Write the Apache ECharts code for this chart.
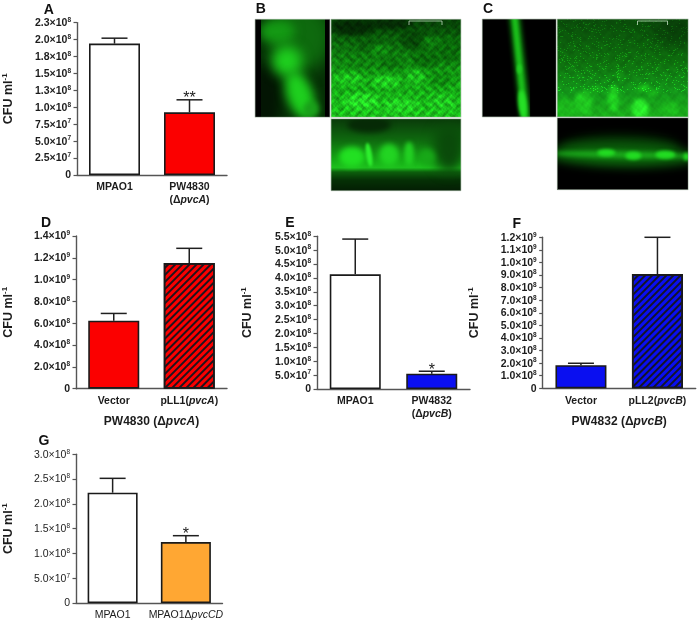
<!DOCTYPE html>
<html><head><meta charset="utf-8">
<style>html,body{margin:0;padding:0;background:#fff}#c{width:699px;height:626px}</style>
<script src="https://cdn.jsdelivr.net/npm/echarts@6/dist/echarts.min.js"></script>
</head><body><div id="c"></div>
<script>
// ---------- data ----------
const catsA = ['MPAO1', 'PW4830\n(Δ_pvcA_)'];
const valsA = [1.94e8, 9.25e7];
const errA  = [2.02e8, 1.11e8];
const sigA  = ['', '**'];
const ticksA = ['0','2.5×10^7','5.0×10^7','7.5×10^7','1.0×10^8','1.3×10^8','1.5×10^8','1.8×10^8','2.0×10^8','2.3×10^8'];

const catsD = ['Vector', 'pLL1(_pvcA_)'];
const valsD = [6.23e8, 1.152e9];
const errD  = [6.9e8, 1.287e9];
const sigD  = ['', ''];
const ticksD = ['0','2.0×10^8','4.0×10^8','6.0×10^8','8.0×10^8','1.0×10^9','1.2×10^9','1.4×10^9'];

const catsE = ['MPAO1', 'PW4832\n(Δ_pvcB_)'];
const valsE = [4.13e8, 5.5e7];
const errE  = [5.4e8, 6.4e7];
const sigE  = ['', '*'];
const ticksE = ['0','5.0×10^7','1.0×10^8','1.5×10^8','2.0×10^8','2.5×10^8','3.0×10^8','3.5×10^8','4.0×10^8','4.5×10^8','5.0×10^8','5.5×10^8'];

const catsF = ['Vector', 'pLL2(_pvcB_)'];
const valsF = [1.83e8, 9.08e8];
const errF  = [1.99e8, 1.2e9];
const sigF  = ['', ''];
const ticksF = ['0','1.0×10^8','2.0×10^8','3.0×10^8','4.0×10^8','5.0×10^8','6.0×10^8','7.0×10^8','8.0×10^8','9.0×10^8','1.0×10^9','1.1×10^9','1.2×10^9'];

const catsG = ['MPAO1', 'MPAO1Δ_pvcCD_'];
const valsG = [2.225e8, 1.23e8];
const errG  = [2.515e8, 1.358e8];
const sigG  = ['', '*'];
const ticksG = ['0','5.0×10^7','1.0×10^8','1.5×10^8','2.0×10^8','2.5×10^8','3.0×10^8'];

const yName = 'CFU ml';
const nameD = 'PW4830 (Δ_pvcA_)';
const nameF = 'PW4832 (Δ_pvcB_)';

// ---------- text helpers ----------
const supLabel = s => { const p = s.split('^'); return p.length > 1 ? `{b|${p[0]}}{s|${p[1]}}` : `{b|${s}}`; };
const italics = s => s.split('\n').map(l => l.split('_').map((t, i) => t ? `{${i % 2 ? 'i' : 'n'}|${t}}` : '').join('')).join('\n');

const FONT = '"Liberation Sans", Arial, sans-serif';
const INK = '#1c1c1c', AXIS = '#555';

const W = '#ffffff', R = '#fb0000', B = '#0a0ff0', O = '#ffa733';
const panels = [
  {cats: catsA, vals: valsA, err: errA, sig: sigA, ticks: ticksA, max: 2.25e8, step: 2.5e7, colors: [W, R], hatch: [0, 0], box: [75, 22.6, 152, 152.4], gap: 62, barW: 51, weight: 'bold', fs: 10.5},
  {cats: catsD, vals: valsD, err: errD, sig: sigD, ticks: ticksD, max: 1.4e9, step: 2e8, colors: [R, R], hatch: [0, 1], box: [72, 236, 155, 152.7], gap: 61, barW: 51, weight: 'bold', fs: 10.5, xName: nameD, xGap: 27},
  {cats: catsE, vals: valsE, err: errE, sig: sigE, ticks: ticksE, max: 5.5e8, step: 5e7, colors: [W, B], hatch: [0, 0], box: [317, 236.3, 153, 152.7], gap: 63, barW: 51, weight: 'bold', fs: 10.5},
  {cats: catsF, vals: valsF, err: errF, sig: sigF, ticks: ticksF, max: 1.2e9, step: 1e8, colors: [B, B], hatch: [0, 1], box: [542.7, 237.3, 153, 151], gap: 62, barW: 51, weight: 'bold', fs: 10.5, xName: nameF, xGap: 27},
  {cats: catsG, vals: valsG, err: errG, sig: sigG, ticks: ticksG, max: 3e8, step: 5e7, colors: [W, O], hatch: [0, 0], box: [72, 454.3, 150.5, 148.7], gap: 61, barW: 50, weight: 'normal', fs: 10.5},
];
const letters = [['A', 48.7, 10], ['B', 260.7, 9], ['C', 488, 9], ['D', 46, 223], ['E', 290, 223], ['F', 516.7, 224], ['G', 44, 441]];

const grid = [], xAxis = [], yAxis = [], series = [];
panels.forEach((p, i) => {
  grid.push({left: p.box[0], top: p.box[1], width: p.box[2], height: p.box[3], containLabel: false});
  const rich = {
    n: {fontFamily: FONT, fontSize: 10.5, fontWeight: p.weight === 'bold' ? 'bold' : 'normal', color: INK, lineHeight: 13},
    i: {fontFamily: FONT, fontSize: 10.5, fontStyle: 'italic', fontWeight: p.weight === 'bold' ? 'bold' : 'normal', color: INK, lineHeight: 13},
  };
  xAxis.push({
    type: 'category', gridIndex: i, data: p.cats,
    axisLine: {lineStyle: {color: AXIS, width: 1.4}},
    axisTick: {alignWithLabel: true, length: 4, lineStyle: {color: AXIS, width: 1.2}},
    axisLabel: {interval: 0, margin: 6, formatter: v => italics(v), rich, verticalAlign: 'top'},
    name: p.xName ? italics(p.xName) : '', nameLocation: 'middle', nameGap: p.xGap || 0,
    nameTextStyle: {rich: {
      n: {fontFamily: FONT, fontSize: 12, fontWeight: 'bold', color: INK},
      i: {fontFamily: FONT, fontSize: 12, fontWeight: 'bold', fontStyle: 'italic', color: INK}}},
  });
  yAxis.push({
    type: 'value', gridIndex: i, min: 0, max: p.max, interval: p.step,
    splitLine: {show: false},
    axisLine: {show: true, lineStyle: {color: AXIS, width: 1.4}},
    axisTick: {show: true, length: 3.5, lineStyle: {color: AXIS, width: 1.2}},
    axisLabel: {margin: 6, showMinLabel: true, showMaxLabel: true, hideOverlap: false,
      formatter: (v, idx) => supLabel(p.ticks[idx]),
      rich: {
        b: {fontFamily: FONT, fontSize: p.fs, fontWeight: p.weight, color: INK, lineHeight: 12, verticalAlign: 'bottom'},
        s: {fontFamily: FONT, fontSize: 6.5, fontWeight: p.weight, color: INK, lineHeight: 12, verticalAlign: 'top', padding: [0, 0, 0, 0]},
      }},
    name: `{b|${yName}}{s|-1}`, nameLocation: 'middle', nameRotate: 90, nameGap: p.gap,
    nameTextStyle: {rich: {
      b: {fontFamily: FONT, fontSize: 12.5, fontWeight: 'bold', color: INK, lineHeight: 14, verticalAlign: 'bottom'},
      s: {fontFamily: FONT, fontSize: 8, fontWeight: 'bold', color: INK, lineHeight: 14, verticalAlign: 'top'}}},
  });
  series.push({
    type: 'bar', xAxisIndex: i, yAxisIndex: i, barWidth: p.barW, silent: true, z: 2,
    data: p.vals.map((v, k) => {
      const itemStyle = {color: p.colors[k], borderColor: '#1a1a1a', borderWidth: 1.6};
      if (p.hatch[k]) itemStyle.decal = {symbol: 'rect', color: 'rgba(20,20,30,0.95)', dashArrayX: [1, 0], dashArrayY: [1.5, 3], rotation: -Math.PI / 4, symbolSize: 1};
      return {value: v, itemStyle};
    }),
  });
  series.push({
    type: 'custom', xAxisIndex: i, yAxisIndex: i, silent: true, z: 1, clip: false,
    encode: {x: 0, y: [1, 2]},
    data: p.vals.map((v, k) => [k, v, p.err[k]]),
    renderItem: (params, api) => {
      const base = api.coord([api.value(0), api.value(1)]);
      const top = api.coord([api.value(0), api.value(2)]);
      const half = 13;
      const style = {stroke: '#1f1f1f', lineWidth: 1.5, fill: null};
      const sig = p.sig[api.value(0)];
      const children = [
        {type: 'line', shape: {x1: base[0], y1: base[1], x2: top[0], y2: top[1]}, style},
        {type: 'line', shape: {x1: top[0] - half, y1: top[1], x2: top[0] + half, y2: top[1]}, style},
      ];
      if (sig) children.push({type: 'text', style: {text: sig, x: top[0], y: top[1] + 7, align: 'center', verticalAlign: 'bottom', font: `16px ${FONT}`, fill: '#1a1a1a'}});
      return {type: 'group', children};
    },
  });
});

// ---------- micrographs ----------
function canvasOf(w, h, paint) {
  const cv = document.createElement('canvas');
  cv.width = w * 2; cv.height = h * 2;
  const ctx = cv.getContext('2d');
  ctx.scale(2, 2);
  paint(ctx, w, h);
  return cv;
}
function blob(ctx, x, y, rx, ry, rot, color, blur) {
  ctx.save();
  ctx.filter = `blur(${blur * 2}px)`;
  ctx.fillStyle = color;
  ctx.beginPath();
  ctx.ellipse(x, y, rx, ry, rot, 0, Math.PI * 2);
  ctx.fill();
  ctx.restore();
}
function texture(ctx, amp, scale, speck) {
  const cv = ctx.canvas, img = ctx.getImageData(0, 0, cv.width, cv.height), d = img.data;
  for (let y = 0; y < cv.height; y++) for (let x = 0; x < cv.width; x++) {
    const u = x / 2 / scale, v = y / 2 / scale;
    let n = Math.sin(u * 1.3 + Math.sin(v * 0.9) * 1.7) + Math.sin(v * 1.7 + Math.sin(u * 1.1) * 1.9) + 0.6 * Math.sin((u + v) * 2.7 + Math.sin(u * 3.1)) + 0.5 * Math.sin((u - v) * 4.1 + Math.sin(v * 3.7));
    let f = 1 + amp * n;
    if (speck) {
      const h = Math.sin(Math.floor(x / 2) * 12.9898 + Math.floor(y / 2) * 78.233) * 43758.5453;
      const r = h - Math.floor(h);
      if (r > 0.93 && y < cv.height * 0.75) f *= 1.5;
    }
    const i = (x + y * cv.width) * 4;
    d[i] *= f; d[i + 1] *= f; d[i + 2] *= f;
  }
  ctx.putImageData(img, 0, 0);
}
const bgGrad = (ctx, w, h, stops) => {
  const g = ctx.createLinearGradient(0, 0, 0, h);
  stops.forEach(s => g.addColorStop(s[0], s[1]));
  ctx.fillStyle = g; ctx.fillRect(0, 0, w, h);
};

const imgBL = canvasOf(75, 98, (c, w, h) => {
  c.fillStyle = '#000'; c.fillRect(0, 0, w, h);
  c.fillStyle = '#063006'; c.fillRect(6, 0, 64, h);
  blob(c, 46, 18, 32, 34, 0, '#0e6a0e', 8);
  blob(c, 10, 78, 16, 34, 0, '#031503', 6);
  blob(c, 22, 12, 18, 12, 0, '#149a14', 5);
  blob(c, 32, 42, 15, 15, 0, '#1fd01f', 6);
  blob(c, 45, 76, 13, 25, -0.35, '#1ed01e', 5);
  blob(c, 56, 90, 8, 8, 0, '#1aa01a', 3);
  c.fillStyle = '#000'; c.fillRect(0, 0, 6, h); c.fillRect(70, 0, 5, h);
});
const imgBM = canvasOf(130, 98, (c, w, h) => {
  bgGrad(c, w, h, [[0, '#063e06'], [0.3, '#0d700d'], [0.6, '#14a014'], [1, '#1cc41c']]);
  [[22, 8, 22, 8, '#042a04'], [60, 4, 22, 6, '#052d05'], [82, 20, 12, 10, '#074807'], [38, 26, 12, 6, '#0a5a0a'], [95, 40, 14, 8, '#0a6a0a'], [118, 30, 12, 14, '#0a6a0a'], [30, 44, 14, 5, '#0f7f0f'], [60, 44, 12, 6, '#0c720c'], [110, 60, 12, 8, '#0f8a0f']].forEach(b => blob(c, b[0], b[1], b[2], b[3], 0, b[4], 2.5));
  [[18, 60, 16, 7, '#1cc01c'], [55, 62, 15, 6, '#20cc20'], [85, 58, 10, 8, '#1cbc1c'], [30, 82, 18, 8, '#25d825'], [70, 86, 18, 7, '#22cf22'], [112, 84, 14, 8, '#1fc41f'], [48, 30, 10, 4, '#119011'], [100, 22, 10, 4, '#0f800f']].forEach(b => blob(c, b[0], b[1], b[2], b[3], 0, b[4], 2));
  texture(c, 0.1, 2.2);
});
const imgBB = canvasOf(130, 72, (c, w, h) => {
  bgGrad(c, w, h, [[0, '#0a3a0a'], [0.3, '#0f6a0f'], [0.6, '#17b017'], [0.68, '#1ec01e'], [0.74, '#0d600d'], [0.85, '#063206'], [1, '#041f04']]);
  blob(c, 38, 6, 22, 8, 0, '#062a06', 3);
  blob(c, 118, 30, 16, 24, 0, '#0a4a0a', 6);
  blob(c, 21, 38, 13, 10, 0, '#22e022', 3);
  blob(c, 38, 36, 3, 12, -0.15, '#2ef02e', 1.2);
  blob(c, 58, 36, 10, 11, 0, '#22d422', 3);
  blob(c, 78, 35, 5, 12, 0, '#22d022', 2);
  blob(c, 96, 38, 8, 8, 0, '#18a818', 3);
});
const imgCL = canvasOf(74, 98, (c, w, h) => {
  c.fillStyle = '#000'; c.fillRect(0, 0, w, h);
  c.save();
  c.filter = 'blur(5px)'; c.strokeStyle = '#0d7a0d'; c.lineWidth = 11;
  c.beginPath(); c.moveTo(32, -5); c.lineTo(44, 103); c.stroke();
  c.filter = 'blur(3px)'; c.strokeStyle = '#1cc41c'; c.lineWidth = 5;
  c.beginPath(); c.moveTo(32, -5); c.lineTo(43, 103); c.stroke();
  c.restore();
  blob(c, 40, 85, 4, 14, -0.1, '#26e026', 1.5);
  blob(c, 37, 50, 2.5, 5, 0, '#22cc22', 1);
  c.fillStyle = '#000'; c.fillRect(48, 0, 26, h);
});
const imgCM = canvasOf(131, 98, (c, w, h) => {
  bgGrad(c, w, h, [[0, '#0a4a0a'], [0.45, '#0f700f'], [0.75, '#14961a'], [1, '#1bb01b']]);
  blob(c, 120, 10, 25, 16, 0, '#093f09', 8);
  [[83, 90, 8, 10, '#2cf02c'], [56, 80, 5, 13, '#22d822'], [26, 84, 9, 12, '#20c820'], [86, 69, 7, 3, '#1cc81c'], [96, 74, 5, 3, '#1cc01c'], [38, 71, 4, 3, '#1cb81c'], [113, 90, 8, 7, '#1ebe1e'], [62, 56, 4, 2.5, '#16a016'], [8, 90, 10, 10, '#1cb81c']].forEach(b => blob(c, b[0], b[1], b[2], b[3], 0, b[4], 2));
  texture(c, 0.03, 3, true);
});
const imgCB = canvasOf(131, 72, (c, w, h) => {
  c.fillStyle = '#000'; c.fillRect(0, 0, w, h);
  blob(c, 62, 30, 60, 12, 0, '#063c06', 5);
  blob(c, 65, 38, 75, 11, 0.02, '#0c640c', 5);
  blob(c, 65, 37, 68, 3.5, 0.02, '#1aa81a', 2);
  [[49, 35, 9, 3.5], [76, 38, 8, 4], [108, 37, 10, 4], [129, 39, 3, 4]].forEach(b => blob(c, b[0], b[1], b[2], b[3], 0, '#22dc22', 1.5));
});

const imgs = [
  [imgBL, 255, 19.3, 75, 98], [imgBM, 331, 19.3, 130, 98], [imgBB, 331, 118.7, 130, 72],
  [imgCL, 482.3, 19, 74, 98], [imgCM, 557.3, 19, 131, 98], [imgCB, 557.3, 117.7, 131, 72],
];
const graphic = imgs.map(a => ({
  type: 'image', x: a[1], y: a[2], silent: true, z: 1,
  style: {image: a[0], x: 0, y: 0, width: a[3], height: a[4]},
}));
imgs.forEach(a => graphic.push({type: 'rect', x: a[1], y: a[2], silent: true, z: 2, shape: {x: 0, y: 0, width: a[3], height: a[4]}, style: {fill: null, stroke: '#b5c4b5', lineWidth: 0.7}}));
[[409, 21, 33], [637.5, 21, 30]].forEach(s => graphic.push({type: 'polyline', x: s[0], y: s[1], silent: true, z: 3, shape: {points: [[0, 4], [0, 0], [s[2], 0], [s[2], 4]]}, style: {fill: null, stroke: '#d8f0d8', lineWidth: 0.7}}));

const chart = echarts.init(document.getElementById('c'), null, {renderer: 'canvas'});
chart.setOption({
  animation: false, backgroundColor: '#fff',
  title: letters.map(l => ({text: l[0], left: l[1], top: l[2], textAlign: 'center', textVerticalAlign: 'middle', padding: 0,
    textStyle: {fontFamily: FONT, fontSize: 14, fontWeight: 'bold', color: '#111'}})),
  grid, xAxis, yAxis, series, graphic,
});
</script></body></html>
